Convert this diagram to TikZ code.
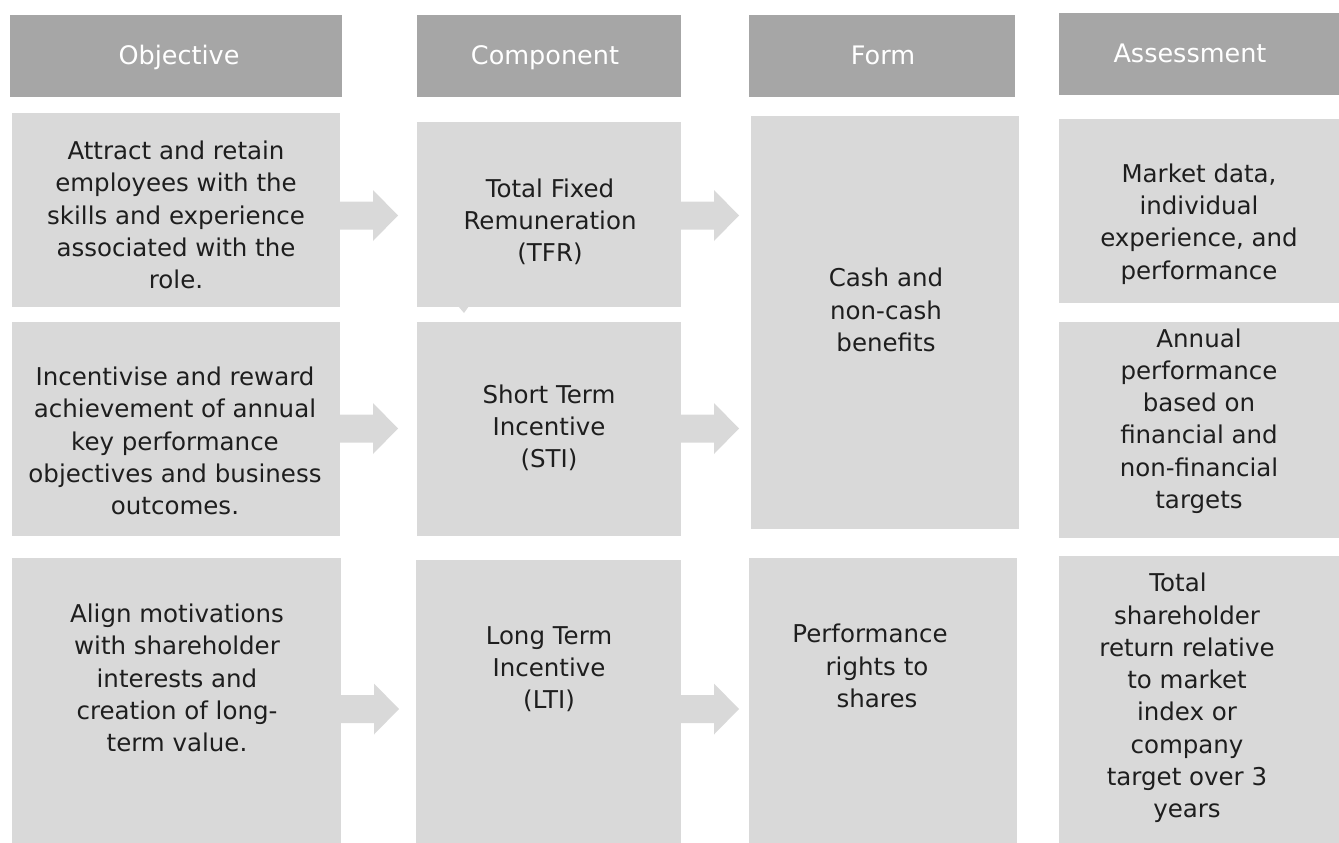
\documentclass[tikz,border=0pt]{standalone}
\usepackage{fontspec}
\setmainfont{DejaVu Sans}
\usetikzlibrary{calc}
\definecolor{hdrc}{HTML}{A6A6A6}
\definecolor{bodyc}{HTML}{D9D9D9}
\definecolor{txtc}{HTML}{1E1E1E}
\newcommand\blockarr[1]{\fill[bodyc] (#1) ++(0,-14) -- ++(33,0) -- ++(0,-11.5) -- ++(25,25.5) -- ++(-25,25.5) -- ++(0,-11.5) -- ++(-33,0) -- cycle;}
\begin{document}
\begin{tikzpicture}[x=1pt,y=-1pt,
  hbox/.style={fill=hdrc, draw=none, inner sep=0pt, outer sep=0pt, anchor=north west},
  bbox/.style={fill=bodyc, draw=none, inner sep=0pt, outer sep=0pt, anchor=north west},
  htxt/.style={text=white, font=\fontsize{25.5}{30}\selectfont, inner sep=0pt, anchor=base},
  btxt/.style={text=txtc, font=\fontsize{24.5}{32.3}\selectfont, align=center, inner sep=0pt}]
\useasboundingbox (0,0) rectangle (1339,843);
% headers
\node[hbox, minimum width=332pt, minimum height=82pt] (ho) at (10,15) {};
\node[hbox, minimum width=264pt, minimum height=82pt] (hc) at (417,15) {};
\node[hbox, minimum width=266pt, minimum height=82pt] (hf) at (749,15) {};
\node[hbox, minimum width=280pt, minimum height=82pt] (ha) at (1059,13) {};
\node[htxt] (hot) at ($(ho.north)+(3,50)$) {Objective};
\node[htxt] (hct) at ($(hc.north)+(-4,50)$) {Component};
\node[htxt] (hft) at ($(hf.north)+(1,50)$) {Form};
\node[htxt] (hat) at ($(ha.north)+(-9,50)$) {Assessment};
% body boxes
\node[bbox, minimum width=328pt, minimum height=194pt] (o1) at (12,113) {};
\node[bbox, minimum width=328pt, minimum height=214pt] (o2) at (12,322) {};
\node[bbox, minimum width=329pt, minimum height=285pt] (o3) at (12,558) {};
\node[bbox, minimum width=264pt, minimum height=185pt] (c1) at (417,122) {};
\node[bbox, minimum width=264pt, minimum height=214pt] (c2) at (417,322) {};
\node[bbox, minimum width=265pt, minimum height=283pt] (c3) at (416,560) {};
\node[bbox, minimum width=268pt, minimum height=413pt] (f1) at (751,116) {};
\node[bbox, minimum width=268pt, minimum height=285pt] (f2) at (749,558) {};
\node[bbox, minimum width=280pt, minimum height=184pt] (a1) at (1059,119) {};
\node[bbox, minimum width=280pt, minimum height=216pt] (a2) at (1059,322) {};
\node[bbox, minimum width=280pt, minimum height=287pt] (a3) at (1059,556) {};
% small notch below c1
\fill[bodyc] ($(c1.south west)+(41,-1)$) -- ++(11,0) -- ++(-5,7) -- cycle;
% arrows
\blockarr{$(o1.north east)+(0,102.5)$}
\blockarr{$(c1.north east)+(0,93.5)$}
\blockarr{$(o2.north east)+(0,106.5)$}
\blockarr{$(c2.north east)+(0,106.5)$}
\blockarr{$(o3.north east)+(0,151)$}
\blockarr{$(c3.north east)+(0,149)$}
% texts
\node[btxt] (o1t) at (176,215) {Attract and retain\\employees with the\\skills and experience\\associated with the\\role.};
\node[btxt] (o2t) at (175,441) {Incentivise and reward\\achievement of annual\\key performance\\objectives and business\\outcomes.};
\node[btxt] (o3t) at (177,678) {Align motivations\\with shareholder\\interests and\\creation of long-\\term value.};
\node[btxt] (c1t) at (550,222) {Total Fixed\\Remuneration\\(TFR)};
\node[btxt] (c2t) at (549,428) {Short Term\\Incentive\\(STI)};
\node[btxt] (c3t) at (549,669) {Long Term\\Incentive\\(LTI)};
\node[btxt] (f1t) at (886,310) {Cash and\\non-cash\\benefits};
\node[btxt] (f2t) at (870,666) {Performance\\\hspace*{14pt}rights to\\\hspace*{14pt}shares};
\node[btxt] (a1t) at (1199,224) {Market data,\\individual\\experience, and\\performance};
\node[btxt] (a2t) at (1199,421) {Annual\\performance\\based on\\financial and\\non-financial\\targets};
\node[btxt] (a3t) at (1187,698) {Total\hspace*{18pt}\\shareholder\\return relative\\to market\\index or\\company\\target over 3\\years};
\end{tikzpicture}
\end{document}
